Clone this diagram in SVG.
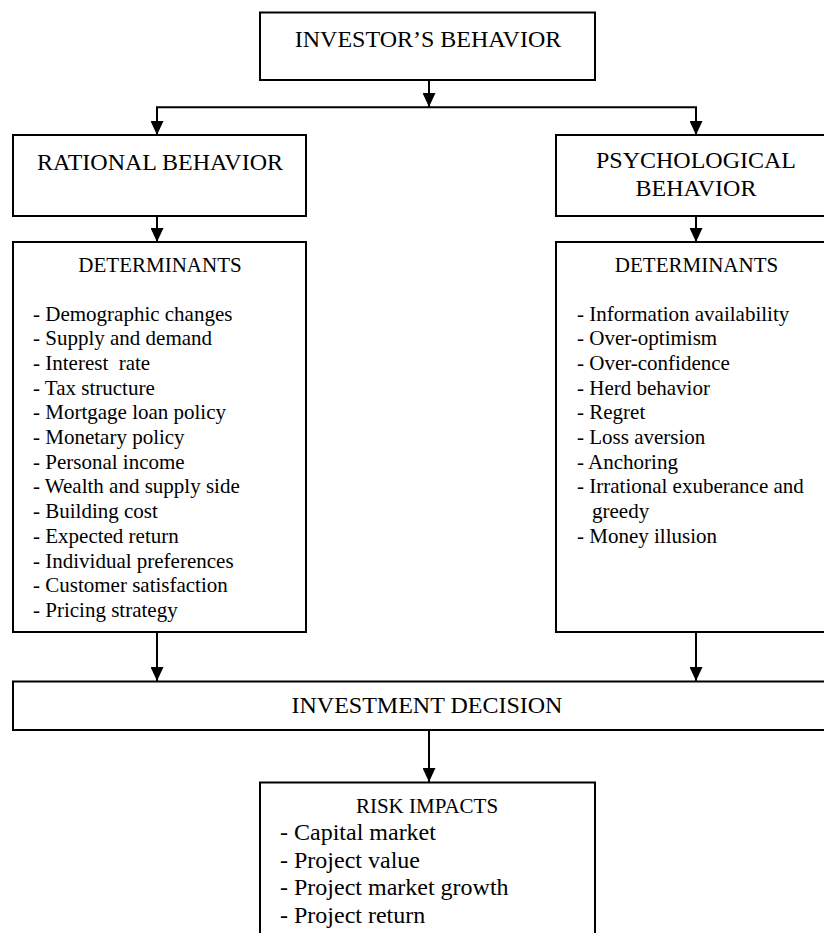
<svg xmlns="http://www.w3.org/2000/svg" width="824" height="933" viewBox="0 0 824 933">
  <style>
    text { font-family: "Liberation Serif", "Times New Roman", serif; fill: #000; }
    .box { fill: #fff; stroke: #000; stroke-width: 2; }
    .title { font-size: 24px; text-anchor: middle; }
    .head { font-size: 21px; text-anchor: middle; }
    .item { font-size: 21px; }
    .risk { font-size: 24px; }
    .conn { fill: none; stroke: #000; stroke-width: 2; }
  </style>
  <defs>
    <marker id="arrow" markerUnits="userSpaceOnUse" viewBox="0 0 14 13" refX="14" refY="6.5" markerWidth="14" markerHeight="13" orient="auto">
      <path d="M0,0 L14,6.5 L0,13 z" fill="#000"/>
    </marker>
  </defs>
  <rect width="824" height="933" fill="#fff"/>

  <g id="investor-behavior">
    <rect class="box" x="260" y="12.5" width="335" height="67.5"/>
    <text class="title" x="428" y="47">INVESTOR’S BEHAVIOR</text>
  </g>

  <g id="rational-behavior">
    <rect class="box" x="13" y="135" width="293" height="81"/>
    <text class="title" x="160" y="170">RATIONAL BEHAVIOR</text>
  </g>

  <g id="psychological-behavior">
    <rect class="box" x="556" y="135" width="290" height="81"/>
    <text class="title" x="696" y="168">PSYCHOLOGICAL</text>
    <text class="title" x="696" y="196">BEHAVIOR</text>
  </g>

  <g id="rational-determinants">
    <rect class="box" x="13" y="242" width="293" height="390"/>
    <text class="head" x="160" y="272">DETERMINANTS</text>
    <text class="item" x="33" y="320.5">- Demographic changes</text>
    <text class="item" x="33" y="345.2">- Supply and demand</text>
    <text class="item" x="33" y="369.9" xml:space="preserve">- Interest  rate</text>
    <text class="item" x="33" y="394.6">- Tax structure</text>
    <text class="item" x="33" y="419.3">- Mortgage loan policy</text>
    <text class="item" x="33" y="444">- Monetary policy</text>
    <text class="item" x="33" y="468.7">- Personal income</text>
    <text class="item" x="33" y="493.4">- Wealth and supply side</text>
    <text class="item" x="33" y="518.1">- Building cost</text>
    <text class="item" x="33" y="542.8">- Expected return</text>
    <text class="item" x="33" y="567.5">- Individual preferences</text>
    <text class="item" x="33" y="592.2">- Customer satisfaction</text>
    <text class="item" x="33" y="616.9">- Pricing strategy</text>
  </g>

  <g id="psychological-determinants">
    <rect class="box" x="556" y="242" width="290" height="390"/>
    <text class="head" x="696.5" y="272">DETERMINANTS</text>
    <text class="item" x="577" y="320.5">- Information availability</text>
    <text class="item" x="577" y="345.2">- Over-optimism</text>
    <text class="item" x="577" y="369.9">- Over-confidence</text>
    <text class="item" x="577" y="394.6">- Herd behavior</text>
    <text class="item" x="577" y="419.3">- Regret</text>
    <text class="item" x="577" y="444">- Loss aversion</text>
    <text class="item" x="577" y="468.7">- Anchoring</text>
    <text class="item" x="577" y="493.4">- Irrational exuberance and</text>
    <text class="item" x="592" y="518.1">greedy</text>
    <text class="item" x="577" y="542.8">- Money illusion</text>
  </g>

  <g id="investment-decision">
    <rect class="box" x="13" y="681.5" width="833" height="48.5"/>
    <text class="title" x="427" y="713">INVESTMENT DECISION</text>
  </g>

  <g id="risk-impacts">
    <rect class="box" x="260" y="782.5" width="335" height="180"/>
    <text class="head" x="427" y="813">RISK IMPACTS</text>
    <text class="risk" x="280" y="840">- Capital market</text>
    <text class="risk" x="280" y="867.5">- Project value</text>
    <text class="risk" x="280" y="895">- Project market growth</text>
    <text class="risk" x="280" y="922.5">- Project return</text>
  </g>

  <g id="connectors">
    <line class="conn" x1="429" y1="80" x2="429" y2="107" marker-end="url(#arrow)"/>
    <line class="conn" x1="156" y1="107.3" x2="697" y2="107.3"/>
    <line class="conn" x1="157" y1="107" x2="157" y2="135" marker-end="url(#arrow)"/>
    <line class="conn" x1="696" y1="107" x2="696" y2="135" marker-end="url(#arrow)"/>
    <line class="conn" x1="157" y1="216" x2="157" y2="242" marker-end="url(#arrow)"/>
    <line class="conn" x1="696" y1="216" x2="696" y2="242" marker-end="url(#arrow)"/>
    <line class="conn" x1="157" y1="632" x2="157" y2="681" marker-end="url(#arrow)"/>
    <line class="conn" x1="696" y1="632" x2="696" y2="681" marker-end="url(#arrow)"/>
    <line class="conn" x1="429" y1="730" x2="429" y2="782" marker-end="url(#arrow)"/>
  </g>
</svg>
